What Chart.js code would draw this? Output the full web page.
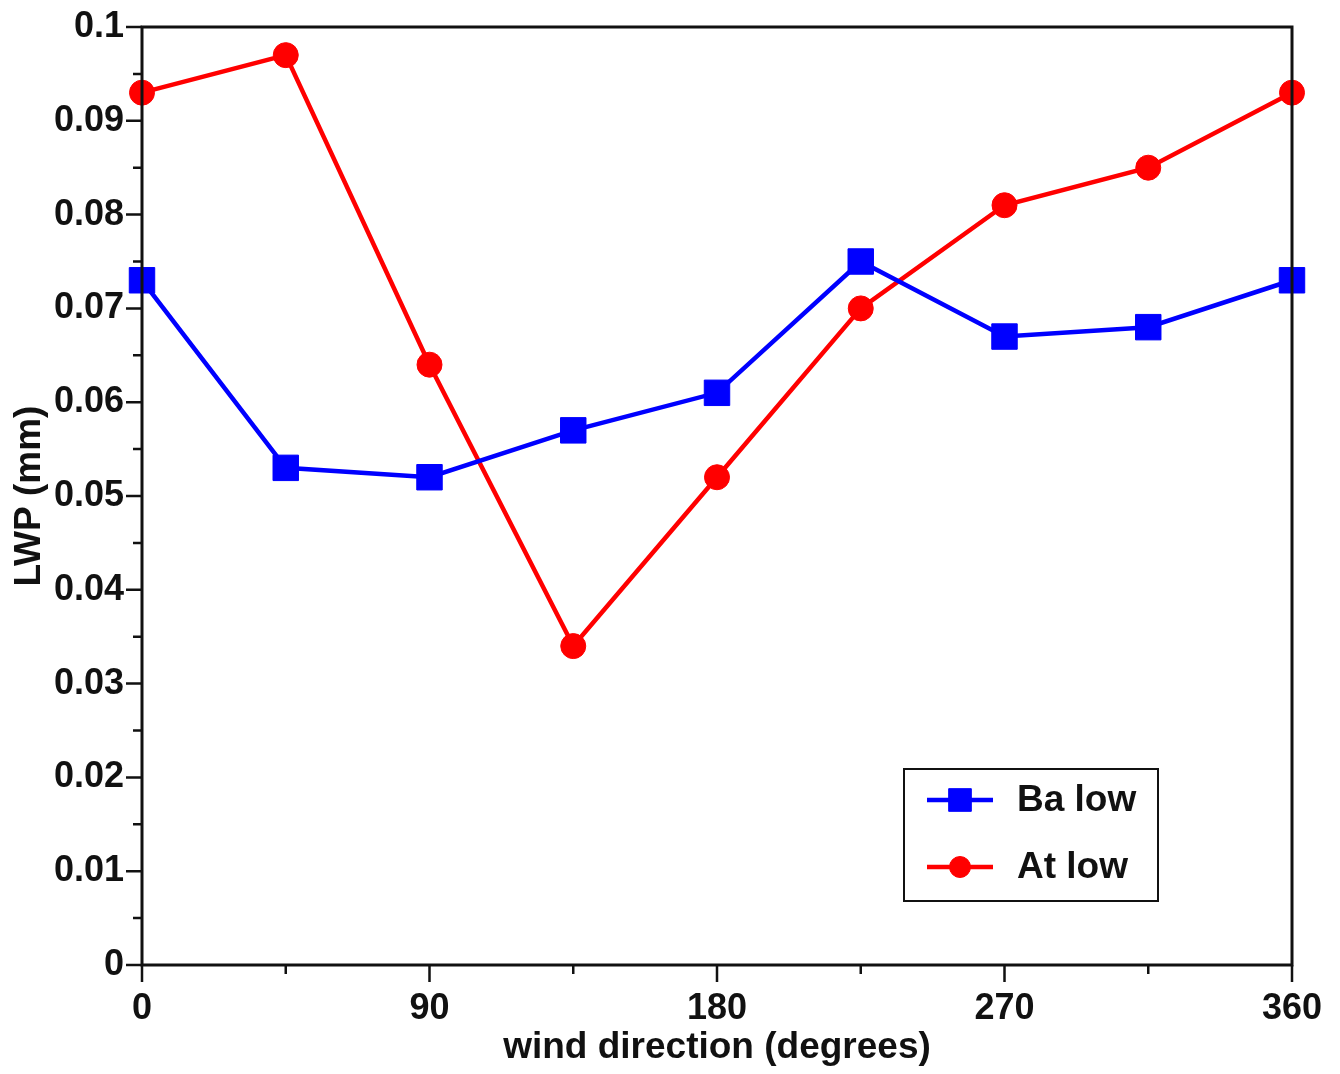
<!DOCTYPE html>
<html lang="en">
<head>
  <meta charset="UTF-8">
  <title>LWP vs wind direction</title>
  <script src="https://cdn.jsdelivr.net/npm/chart.js"></script>
  <style>
    html, body {
      margin: 0;
      padding: 0;
      background: #fff;
      overflow: hidden;
    }
    .wrap {
      width: 1340px;
      height: 1074px;
      position: relative;
    }
  </style>
</head>
<body>
  <div class="wrap">
    <canvas id="lwpChart"></canvas>
  </div>

  <script>
    // wind direction (degrees)
    const directions = [0, 45, 90, 135, 180, 225, 270, 315, 360];
    // LWP (mm)
    const baLow = [0.073, 0.053, 0.052, 0.057, 0.061, 0.075, 0.067, 0.068, 0.073];
    const atLow = [0.093, 0.097, 0.064, 0.034, 0.052, 0.070, 0.081, 0.085, 0.093];

    const xMajor = [0, 90, 180, 270, 360];
    const xMinor = [45, 135, 225, 315];
    const yMajor = [0, 0.01, 0.02, 0.03, 0.04, 0.05, 0.06, 0.07, 0.08, 0.09, 0.1];
    const yMinor = [0.005, 0.015, 0.025, 0.035, 0.045, 0.055, 0.065, 0.075, 0.085, 0.095];

    const FONT = "'Liberation Sans', Arial, sans-serif";

    function toPoints(vals) {
      return directions.map((d, i) => ({ x: d, y: vals[i] }));
    }

    // frame, outward tick marks and the boxed legend
    const framePlugin = {
      id: 'frame',
      afterDraw(chart) {
        const ctx = chart.ctx;
        const { left, right, top, bottom } = chart.chartArea;
        const xs = chart.scales.x, ys = chart.scales.y;
        ctx.save();
        ctx.strokeStyle = '#111';
        ctx.lineWidth = 3;
        ctx.strokeRect(left, top, right - left, bottom - top);

        ctx.lineWidth = 2.5;
        ctx.beginPath();
        xMajor.forEach(v => { const p = xs.getPixelForValue(v); ctx.moveTo(p, bottom); ctx.lineTo(p, bottom + 17); });
        xMinor.forEach(v => { const p = xs.getPixelForValue(v); ctx.moveTo(p, bottom); ctx.lineTo(p, bottom + 9); });
        yMajor.forEach(v => { const p = ys.getPixelForValue(v); ctx.moveTo(left, p); ctx.lineTo(left - 16, p); });
        yMinor.forEach(v => { const p = ys.getPixelForValue(v); ctx.moveTo(left, p); ctx.lineTo(left - 9, p); });
        ctx.stroke();

        // legend
        const lx = 904, ly = 769, lw = 254, lh = 132;
        ctx.fillStyle = '#fff';
        ctx.fillRect(lx, ly, lw, lh);
        ctx.lineWidth = 2;
        ctx.strokeStyle = '#111';
        ctx.strokeRect(lx, ly, lw, lh);
        chart.data.datasets.forEach((ds, i) => {
          const cy = ly + 31 + i * 67;
          ctx.strokeStyle = ds.borderColor;
          ctx.lineWidth = ds.borderWidth;
          ctx.beginPath();
          ctx.moveTo(lx + 23, cy);
          ctx.lineTo(lx + 89, cy);
          ctx.stroke();
          ctx.fillStyle = ds.pointBackgroundColor;
          ctx.strokeStyle = ds.pointBorderColor;
          ctx.lineWidth = 1;
          Chart.helpers.drawPoint(ctx, { pointStyle: ds.pointStyle, radius: ds.pointRadius - 2, borderWidth: 1 }, lx + 56, cy);
          ctx.fillStyle = '#111';
          ctx.font = 'bold 37px ' + FONT;
          ctx.textBaseline = 'middle';
          ctx.textAlign = 'left';
          ctx.fillText(ds.label, lx + 113, cy + 1);
        });
        ctx.restore();
      }
    };

    const ctx = document.getElementById('lwpChart').getContext('2d');
    new Chart(ctx, {
      type: 'line',
      data: {
        datasets: [
          {
            label: 'Ba low',
            data: toPoints(baLow),
            borderColor: '#0000ff',
            backgroundColor: '#0000ff',
            pointBackgroundColor: '#0000ff',
            pointBorderColor: '#0000ff',
            borderWidth: 4.5,
            pointStyle: 'rect',
            pointRadius: 18,
            pointBorderWidth: 1,
            tension: 0
          },
          {
            label: 'At low',
            data: toPoints(atLow),
            borderColor: '#ff0000',
            backgroundColor: '#ff0000',
            pointBackgroundColor: '#ff0000',
            pointBorderColor: '#ff0000',
            borderWidth: 4.5,
            pointStyle: 'circle',
            pointRadius: 12.5,
            pointBorderWidth: 1,
            tension: 0
          }
        ]
      },
      options: {
        responsive: true,
        maintainAspectRatio: false,
        animation: false,
        clip: false,
        layout: { padding: { left: 0, top: 27, right: 48, bottom: 0 } },
        plugins: {
          legend: { display: false },
          tooltip: { enabled: false }
        },
        scales: {
          x: {
            type: 'linear',
            min: 0,
            max: 360,
            afterFit(scale) {
              scale.height = 109;
              scale.paddingLeft = 0;
              scale.paddingRight = 0;
            },
            grid: { display: false, drawTicks: false },
            border: { display: false },
            ticks: {
              stepSize: 90,
              padding: 22,
              color: '#111',
              font: { family: FONT, size: 36, weight: 'bold' },
              maxRotation: 0
            },
            title: {
              display: true,
              text: 'wind direction (degrees)',
              color: '#111',
              font: { family: FONT, size: 37, weight: 'bold' },
              padding: { top: 0, bottom: 4 }
            }
          },
          y: {
            type: 'linear',
            min: 0,
            max: 0.1,
            afterFit(scale) {
              scale.width = 142;
              scale.paddingTop = 0;
              scale.paddingBottom = 0;
            },
            grid: { display: false, drawTicks: false },
            border: { display: false },
            ticks: {
              stepSize: 0.01,
              padding: 18,
              color: '#111',
              font: { family: FONT, size: 36, weight: 'bold' },
              callback: v => String(+v.toFixed(3))
            },
            title: {
              display: true,
              text: 'LWP (mm)',
              color: '#111',
              font: { family: FONT, size: 37, weight: 'bold' },
              padding: { top: 8, bottom: 0 }
            }
          }
        }
      },
      plugins: [framePlugin]
    });
  </script>
</body>
</html>
